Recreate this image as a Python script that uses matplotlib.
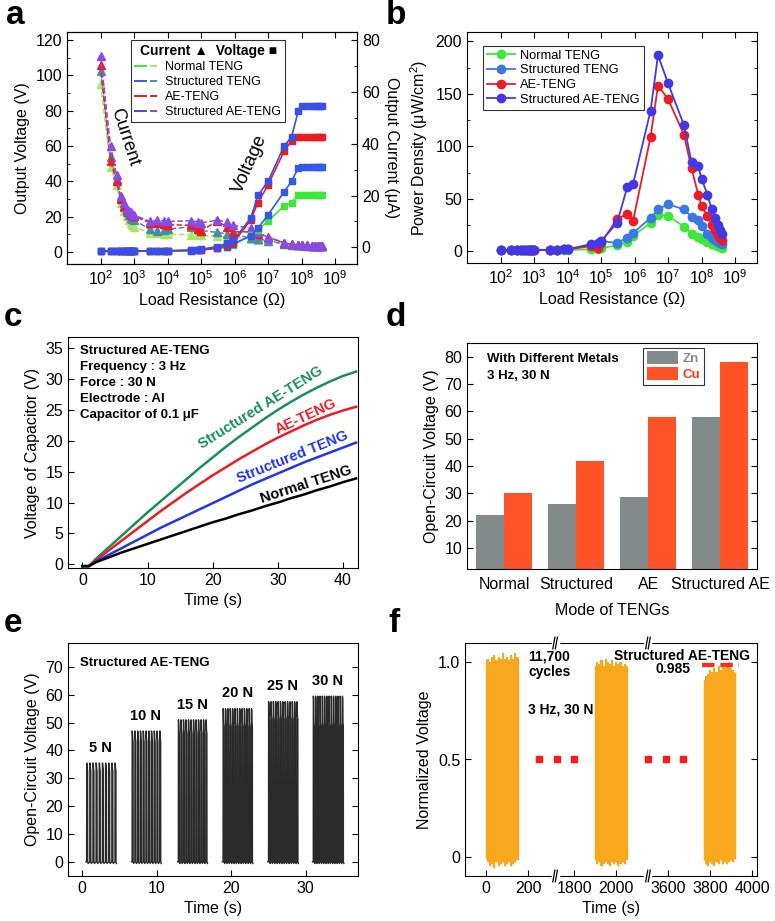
import matplotlib.pyplot as plt
import numpy as np
from matplotlib.lines import Line2D
from matplotlib.legend_handler import HandlerTuple
from matplotlib.ticker import MultipleLocator, LogLocator, NullFormatter

plt.rcParams['font.family'] = ['Liberation Sans', 'DejaVu Sans']
plt.rcParams['mathtext.fontset'] = 'custom'
plt.rcParams['mathtext.rm'] = 'Liberation Sans'
plt.rcParams['mathtext.it'] = 'Liberation Sans:italic'
plt.rcParams['mathtext.bf'] = 'Liberation Sans:bold'
plt.rcParams['font.size'] = 11.5
plt.rcParams['xtick.direction'] = 'in'
plt.rcParams['ytick.direction'] = 'in'
plt.rcParams['xtick.major.size'] = 4
plt.rcParams['ytick.major.size'] = 4
plt.rcParams['xtick.minor.size'] = 2.5
plt.rcParams['ytick.minor.size'] = 2.5

# ---------------- data ----------------
names = ['Normal TENG', 'Structured TENG', 'AE-TENG', 'Structured AE-TENG']

# load resistances (ohm), shared by a and b
load_r = [1e2, 2e2, 3e2, 4e2, 5e2, 6e2, 7e2, 8e2, 9e2, 1e3, 3e3, 5e3, 8e3, 1e4,
          5e4, 8e4, 1e5, 3e5, 6e5, 9e5, 3e6, 5e6, 1e7, 3e7, 5e7, 8e7, 1e8,
          1.5e8, 2e8, 2.5e8, 3e8, 3.5e8, 4e8]

# a: output voltage (V)
volt_normal = [0.4, 0.4, 0.4, 0.4, 0.4, 0.4, 0.4, 0.4, 0.4, 0.4, 0.5, 0.5, 0.5, 0.6,
               0.8, 1.0, 1.2, 2.0, 3.0, 4.0, 9.5, 12.5, 17.5, 26, 28, 32, 32,
               32, 32, 32, 32, 32, 32]
volt_struct = [0.4, 0.4, 0.4, 0.4, 0.4, 0.4, 0.4, 0.4, 0.4, 0.4, 0.5, 0.5, 0.5, 0.6,
               0.8, 1.0, 1.2, 2.0, 3.0, 4.5, 9, 13.5, 21, 34, 40, 47.5, 48,
               48, 48, 48, 48, 48, 48]
volt_ae = [0.5, 0.5, 0.5, 0.5, 0.5, 0.5, 0.5, 0.5, 0.5, 0.5, 0.6, 0.6, 0.7, 0.7,
           1.0, 1.2, 1.4, 2.5, 4.0, 5.0, 18, 28, 38, 57, 63, 65, 65,
           65, 65, 65, 65, 65, 65]
volt_sae = [0.5, 0.5, 0.5, 0.5, 0.5, 0.5, 0.5, 0.5, 0.5, 0.5, 0.6, 0.6, 0.7, 0.7,
            1.0, 1.2, 1.5, 3.0, 5.0, 6.5, 19, 32, 40, 60, 65, 80, 82.5,
            82.5, 82.5, 82.5, 82.5, 82.5, 82.5]

# a: output current (uA)
curr_normal = [63, 31, 24, 17, 14, 12, 10.5, 9.5, 8.5, 8.0, 5.6, 5.4, 5.2, 5.0,
               4.9, 4.8, 4.6, 4.3, 4.0, 4.0, 3.2, 3.0, 2.3, 1.2, 0.9, 0.8, 0.7,
               0.6, 0.6, 0.5, 0.5, 0.5, 0.5]
curr_struct = [68, 35, 26.5, 19, 15.5, 13.5, 12.5, 11.5, 11, 10.5, 7.0, 6.5, 6.8, 7.0,
               8.0, 7.2, 6.5, 5.8, 5.2, 4.8, 3.8, 3.3, 2.6, 1.4, 1.0, 0.9, 0.8,
               0.7, 0.6, 0.6, 0.5, 0.5, 0.5]
curr_ae = [70.5, 33.5, 25.5, 18.5, 16, 14.5, 13.5, 13, 12.5, 12, 9.5, 9.3, 9.0, 8.8,
           8.5, 7.0, 6.5, 10.0, 8.0, 6.0, 6.0, 5.3, 4.0, 1.8, 1.2, 1.0, 0.9,
           0.8, 0.7, 0.7, 0.6, 0.6, 0.5]
curr_sae = [74, 39, 28, 20, 17, 15, 14, 13.5, 13, 12.5, 10, 10.5, 10.3, 10,
            10.3, 9.8, 9.5, 10.5, 9.8, 8.5, 7.4, 6, 3.8, 1.8, 1.2, 1.0, 0.9,
            0.8, 0.7, 0.7, 0.6, 0.6, 0.5]

# b: power density (uW/cm2)
pow_normal = [1.2, 1.2, 1.2, 1.2, 1.2, 1.2, 1.2, 1.2, 1.2, 1.2, 1.2, 1.2, 1.5, 1.5,
              2, 2, 3, 6, 9, 15, 27, 35, 34, 23.5, 17, 14, 12, 9, 7, 6, 5, 4, 3]
pow_struct = [1.5, 1.5, 1.5, 1.5, 1.5, 1.5, 1.5, 1.5, 1.5, 1.5, 1.5, 1.5, 2, 2,
              6, 6, 10, 8, 13, 17.5, 32, 40, 45, 40, 33, 30, 24, 17, 13, 11, 9, 8, 7]
pow_ae = [1.5, 1.5, 1.5, 1.5, 1.5, 1.5, 1.5, 1.5, 1.5, 1.5, 1.5, 1.5, 2, 2,
          5, 3, 8, 31, 35.5, 29, 109, 158, 145, 111, 79, 54, 43, 34, 25, 20, 16, 13, 11]
pow_sae = [1.5, 1.5, 1.5, 1.5, 1.5, 1.5, 1.5, 1.5, 1.5, 1.5, 1.5, 1.5, 2, 2,
           7, 8, 10, 27, 61, 64, 134, 187, 160, 120, 85, 81, 69, 54, 40, 32, 25, 20, 17]

# c: capacitor charging
cap_time = [0, 1, 2, 4, 6, 8, 10, 12, 14, 16, 18, 20, 22, 24, 26, 28, 30, 32, 34, 36, 38, 40, 42]
cap_sae = [-0.3, -0.3, 0.8, 2.7, 4.6, 6.5, 8.4, 10.2, 12.0, 13.8, 15.6, 17.3, 19.0, 20.6,
           22.1, 23.6, 25.0, 26.3, 27.5, 28.6, 29.6, 30.5, 31.2]
cap_ae = [-0.3, -0.3, 0.6, 2.2, 3.8, 5.4, 7.0, 8.6, 10.1, 11.6, 13.0, 14.4, 15.7, 17.0,
          18.2, 19.4, 20.5, 21.5, 22.5, 23.4, 24.2, 24.9, 25.5]
cap_struct = [-0.3, -0.3, 0.4, 1.5, 2.6, 3.7, 4.8, 5.9, 6.9, 7.9, 8.9, 9.9, 10.9, 11.9,
              12.9, 13.8, 14.7, 15.6, 16.5, 17.3, 18.1, 18.9, 19.7]
cap_normal = [-0.3, -0.3, 0.3, 1.1, 1.9, 2.6, 3.3, 4.0, 4.7, 5.4, 6.1, 6.8, 7.4, 8.1,
              8.7, 9.4, 10.0, 10.7, 11.3, 12.0, 12.6, 13.3, 13.9]

# d: open-circuit voltage with metals
modes = ['Normal', 'Structured', 'AE', 'Structured AE']
voc_zn = [22, 26, 28.8, 58]
voc_cu = [30, 42, 58, 78]

# e: force dependence
e_labels = ['5 N', '10 N', '15 N', '20 N', '25 N', '30 N']
e_start = [0.6, 6.7, 12.9, 18.9, 25.0, 31.0]
e_end = [4.4, 10.4, 16.6, 22.7, 28.8, 34.9]
e_peak = [35.5, 47.0, 51.0, 55.0, 57.5, 59.5]
e_second = [34.0, 44.5, 47.5, 50.0, 52.5, 50.0]
e_count = [10, 11, 12, 13, 13, 14]

# f: durability, envelopes of the dense signal (real time, s)
blk1_t = [0, 10, 20, 30, 40, 50, 60, 70, 80, 90, 100, 110, 120, 130, 140, 150]
blk1_top = [1.01, 1.02, 1.0, 1.03, 1.04, 1.01, 1.03, 1.02, 1.05, 1.02, 1.03, 1.01, 1.04, 1.02, 1.05, 1.03]
blk1_bot = [-0.01, -0.03, -0.05, -0.04, -0.06, -0.03, -0.05, -0.04, -0.03, -0.05, -0.04, -0.03, -0.05, -0.04, -0.03, -0.02]
blk2_t = [1900, 1910, 1920, 1930, 1940, 1950, 1960, 1970, 1980, 1990, 2000, 2010, 2020, 2030, 2040, 2050]
blk2_top = [0.98, 1.0, 0.99, 1.01, 0.98, 1.02, 1.0, 0.99, 1.01, 0.98, 1.0, 0.99, 1.0, 0.98, 0.99, 0.98]
blk2_bot = [-0.02, -0.04, -0.03, -0.05, -0.04, -0.03, -0.04, -0.05, -0.03, -0.04, -0.03, -0.05, -0.04, -0.03, -0.04, -0.02]
blk3_t = [3770, 3780, 3790, 3800, 3810, 3820, 3830, 3840, 3850, 3860, 3870, 3880, 3890, 3900, 3910, 3920]
blk3_top = [0.91, 0.93, 0.94, 0.96, 0.95, 0.97, 0.95, 0.98, 0.96, 0.99, 0.97, 0.98, 1.0, 0.97, 0.96, 0.95]
blk3_bot = [-0.02, -0.04, -0.05, -0.03, -0.04, -0.05, -0.03, -0.04, -0.02, -0.04, -0.03, -0.04, -0.03, -0.02, -0.03, -0.01]
f_ticks = [0, 200, 1800, 2000, 3600, 3800, 4000]
f_dots = [253, 336, 1799, 3506, 3590, 3670]
retention = 0.985

W, H = 775, 921
fig = plt.figure(figsize=(W / 100, H / 100), dpi=100)


def box(l, r, t, b):
    return [l / W, 1 - b / H, (r - l) / W, (b - t) / H]


def panel_letter(x, y, s):
    fig.text(x / W, 1 - y / H, s, fontsize=24, fontweight='bold', va='center', ha='left')


# ---------------- a ----------------
ax = fig.add_axes(box(67, 357, 32, 264))
ax2 = ax.twinx()
vcols = ['#3ee83a', '#3558e6', '#ec1c24', '#3a4ee8']
icols = ['#a8e860', '#4a8ca8', '#ec1c24', '#8a4ae6']
volts = [volt_normal, volt_struct, volt_ae, volt_sae]
currs = [curr_normal, curr_struct, curr_ae, curr_sae]
for vc, ic, v, c in zip(vcols, icols, volts, currs):
    ax2.plot(load_r, c, '--^', color=ic, ms=5.5, lw=1.1)
    ax.plot(load_r, v, '-s', color=vc, ms=5, lw=1.2)
ax.set_zorder(ax2.get_zorder() + 1)
ax.patch.set_visible(False)
ax.set_xscale('log')
ax.set_xlim(10, 4.5e9)
ax.set_ylim(-6.8, 124.5)
ax2.set_ylim(-6.4, 83.1)
ax.set_xticks([1e2, 1e3, 1e4, 1e5, 1e6, 1e7, 1e8, 1e9])
ax.xaxis.set_minor_locator(LogLocator(subs=np.arange(2, 10)))
ax.xaxis.set_minor_formatter(NullFormatter())
ax.yaxis.set_major_locator(MultipleLocator(20))
ax.yaxis.set_minor_locator(MultipleLocator(10))
ax2.yaxis.set_major_locator(MultipleLocator(20))
ax2.yaxis.set_minor_locator(MultipleLocator(10))
ax.tick_params(which='both', top=True)
ax.set_xlabel('Load Resistance (Ω)')
ax.set_ylabel('Output Voltage (V)')
ax2.set_ylabel('Output Current (μA)', rotation=270, labelpad=14)
handles = [(Line2D([], [], color=vc, lw=1.4), Line2D([], [], color=ic, lw=1.4, ls='--'))
           for vc, ic in zip(vcols, icols)]
leg = ax.legend(handles, names, handler_map={tuple: HandlerTuple(ndivide=None)},
                title='Current ▲  Voltage ■', title_fontproperties={'weight': 'bold', 'size': 10},
                loc='upper left', bbox_to_anchor=(0.222, 0.965), borderaxespad=0, fontsize=9.0,
                frameon=True, fancybox=False, edgecolor='black', handlelength=2.0,
                borderpad=0.3, labelspacing=0.25, handletextpad=0.4)
leg.get_frame().set_linewidth(0.8)
ax.text(0.2, 0.545, 'Current', transform=ax.transAxes, rotation=-72, fontsize=13,
        ha='center', va='center')
ax.text(0.63, 0.43, 'Voltage', transform=ax.transAxes, rotation=66, fontsize=13.5,
        ha='center', va='center')
panel_letter(6, 16, 'a')

# ---------------- b ----------------
bx = fig.add_axes(box(467, 757, 32, 263))
pcols = ['#3ee83a', '#3a78e8', '#ec1c24', '#4438e6']
pows = [pow_normal, pow_struct, pow_ae, pow_sae]
for col, p, n in zip(pcols, pows, names):
    bx.plot(load_r, p, '-o', color=col, ms=6, lw=1.3, label=n)
bx.set_xscale('log')
bx.set_xlim(10, 4.5e9)
bx.set_ylim(-11, 209)
bx.set_xticks([1e2, 1e3, 1e4, 1e5, 1e6, 1e7, 1e8, 1e9])
bx.xaxis.set_minor_locator(LogLocator(subs=np.arange(2, 10)))
bx.xaxis.set_minor_formatter(NullFormatter())
bx.yaxis.set_major_locator(MultipleLocator(50))
bx.yaxis.set_minor_locator(MultipleLocator(25))
bx.tick_params(which='both', top=True, right=True)
bx.set_xlabel('Load Resistance (Ω)')
bx.set_ylabel('Power Density (μW/cm$^2$)')
leg = bx.legend(loc='upper left', bbox_to_anchor=(0.055, 0.94), borderaxespad=0, fontsize=9.3,
                frameon=True, fancybox=False, edgecolor='black', handlelength=2.2, borderpad=0.3,
                labelspacing=0.2, handletextpad=0.4)
leg.get_frame().set_linewidth(0.8)
panel_letter(386, 16, 'b')

# ---------------- c ----------------
cx = fig.add_axes(box(68, 358, 337, 568))
ccols = ['#1a8f5e', '#ec1c24', '#2234f0', '#000000']
caps = [cap_sae, cap_ae, cap_struct, cap_normal]
for col, v in zip(ccols, caps):
    cx.plot(cap_time, v, color=col, lw=1.8)
cx.set_xlim(-2.2, 42.3)
cx.set_ylim(-0.6, 36.8)
cx.xaxis.set_major_locator(MultipleLocator(10))
cx.yaxis.set_major_locator(MultipleLocator(5))
cx.set_xlabel('Time (s)')
cx.set_ylabel('Voltage of Capacitor (V)')
cx.text(0.04, 0.965, 'Structured AE-TENG\nFrequency : 3 Hz\nForce : 30 N\nElectrode : Al\nCapacitor of 0.1 μF',
        transform=cx.transAxes, fontsize=9.5, fontweight='bold', va='top', linespacing=1.45)
cx.text(27.4, 25.4, 'Structured AE-TENG', color=ccols[0], rotation=32, fontsize=10.5,
        fontweight='bold', ha='center', va='center')
cx.text(34.3, 24.0, 'AE-TENG', color=ccols[1], rotation=25, fontsize=10.5,
        fontweight='bold', ha='center', va='center')
cx.text(32.3, 17.4, 'Structured TENG', color=ccols[2], rotation=22, fontsize=10.5,
        fontweight='bold', ha='center', va='center')
cx.text(34.3, 12.9, 'Normal TENG', color=ccols[3], rotation=18, fontsize=10.5,
        fontweight='bold', ha='center', va='center')
panel_letter(4, 318, 'c')

# ---------------- d ----------------
dx = fig.add_axes(box(467, 757, 343, 569))
xpos = np.arange(len(modes))
bw = 0.39
dx.bar(xpos - bw / 2, voc_zn, bw, color='#828a8c', label='Zn')
dx.bar(xpos + bw / 2, voc_cu, bw, color='#ff5226', label='Cu')
dx.set_xlim(-0.52, 3.51)
dx.set_ylim(2.3, 85)
dx.set_xticks(xpos)
dx.set_xticklabels(modes)
dx.tick_params(axis='x', length=0, pad=6)
dx.yaxis.set_major_locator(MultipleLocator(10))
dx.tick_params(axis='y', right=True)
dx.set_xlabel('Mode of TENGs', labelpad=8)
dx.set_ylabel('Open-Circuit Voltage (V)')
dx.text(0.07, 0.955, 'With Different Metals\n3 Hz, 30 N', transform=dx.transAxes,
        fontsize=9.5, fontweight='bold', va='top', linespacing=1.5)
leg = dx.legend(loc='upper right', bbox_to_anchor=(0.817, 0.98), borderaxespad=0, fontsize=9.5,
                frameon=True, fancybox=False, edgecolor='black', handlelength=2.4, handleheight=1.1,
                borderpad=0.3, labelspacing=0.15, handletextpad=0.3)
leg.get_frame().set_linewidth(0.8)
for txt, col in zip(leg.get_texts(), ['#828a8c', '#ff3a10']):
    txt.set_color(col)
    txt.set_fontweight('bold')
panel_letter(386, 318, 'd')

# ---------------- e ----------------
ex = fig.add_axes(box(68, 358, 643, 876))
for lab, t0, t1, pk, sc, n in zip(e_labels, e_start, e_end, e_peak, e_second, e_count):
    xs, ys = [t0 - 0.1], [0]
    for t in np.linspace(t0, t1, n):
        xs += [t, t + 0.01, t + 0.05, t + 0.07, t + 0.13, t + 0.14, t + 0.2]
        ys += [0, pk, pk - 0.8, sc, sc - 1.5, 0, -0.6]
    ex.plot(xs, ys, color='#2a2a2a', lw=1.0)
    ex.text((t0 + t1) / 2, pk + 5.5, lab, fontsize=10.5, fontweight='bold', ha='center', va='center')
ex.set_xlim(-1.9, 37)
ex.set_ylim(-5.1, 78.6)
ex.xaxis.set_major_locator(MultipleLocator(10))
ex.yaxis.set_major_locator(MultipleLocator(10))
ex.tick_params(axis='y', right=True)
ex.set_xlabel('Time (s)')
ex.set_ylabel('Open-Circuit Voltage (V)')
ex.text(0.04, 0.94, 'Structured AE-TENG', transform=ex.transAxes, fontsize=9.5,
        fontweight='bold', va='top')
panel_letter(4, 624, 'e')


# ---------------- f ----------------
def to_axis(t):
    # squeeze the two skipped time ranges into the broken axis
    t = np.asarray(t, float)
    return np.where(t < 1000, t, np.where(t < 3000, t - 1380, t - 2733))


fx = fig.add_axes(box(465, 757, 643, 876))
orange = '#f7a81e'
for bt, btop, bbot in [(blk1_t, blk1_top, blk1_bot), (blk2_t, blk2_top, blk2_bot),
                       (blk3_t, blk3_top, blk3_bot)]:
    fx.fill_between(to_axis(bt), bbot, btop, step='mid', color=orange, lw=0)
    fx.vlines(to_axis(bt), bbot, btop, color=orange, lw=1)
fx.plot(to_axis(f_dots), [0.5] * len(f_dots), 's', color='#ff1a1a', ms=4, ls='none')
fx.plot(to_axis([3760, 3935]), [retention, retention], color='#ff2a1a', lw=3, dashes=(3, 1.4))
fx.set_xlim(-100, 1290)
fx.set_ylim(-0.1, 1.1)
fx.set_xticks(to_axis(f_ticks))
fx.set_xticklabels([str(v) for v in f_ticks])
fx.set_yticks([0, 0.5, 1.0])
fx.set_yticklabels(['0', '0.5', '1.0'])
fx.tick_params(axis='y', right=True)
# axis break marks
trans = fx.get_xaxis_transform()
for xb in [329, 771]:
    for yy in [0, 1]:
        fx.plot([xb - 12, xb + 12], [yy, yy], color='white', lw=2.5, transform=trans,
                clip_on=False, zorder=5)
        for dxb in [-6, 6]:
            fx.plot([xb + dxb - 5, xb + dxb + 5], [yy - 0.025, yy + 0.025], color='black',
                    lw=0.9, transform=trans, clip_on=False, zorder=6)
fx.set_xlabel('Time (s)')
fx.set_ylabel('Normalized Voltage')
fx.text(200, 0.99, '11,700\ncycles', fontsize=10, fontweight='bold', va='center', ha='left')
fx.text(200, 0.76, '3 Hz, 30 N', fontsize=10, fontweight='bold', va='center', ha='left')
fx.text(1255, 1.035, 'Structured AE-TENG', fontsize=10, fontweight='bold', ha='right', va='center')
fx.text(975, 0.965, f'{retention}', fontsize=10, fontweight='bold', ha='right', va='center')
panel_letter(388, 624, 'f')

fig.savefig('out.png', dpi=100)
